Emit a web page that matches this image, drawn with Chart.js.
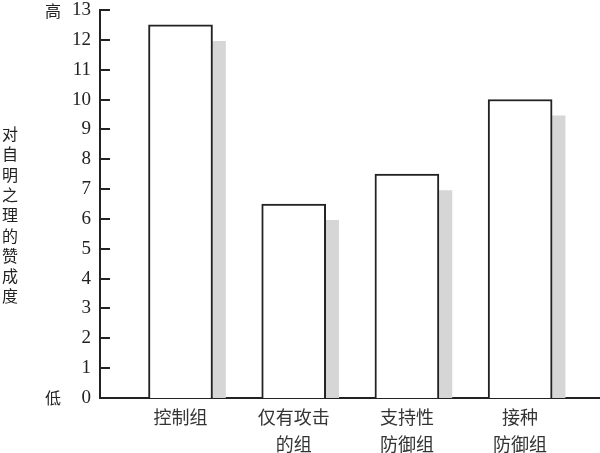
<!DOCTYPE html>
<html><head><meta charset="utf-8">
<script src="https://cdn.jsdelivr.net/npm/chart.js@4/dist/chart.umd.min.js"></script>
<style>html,body{margin:0;padding:0;background:#fff;} #wrap{width:600px;height:453px;position:relative;}</style>
</head><body><div id="wrap"><canvas id="c"></canvas></div>
<script>
const categories = ['控制组', '仅有攻击的组', '支持性防御组', '接种防御组'];
const categoryLabels = [['控制组'], ['仅有攻击', '的组'], ['支持性', '防御组'], ['接种', '防御组']];
const agreementValues = [12.5, 6.5, 7.5, 10];
const shadowValues = [11.95, 5.95, 6.95, 9.45];
const yMin = 0;
const yMax = 13;
const yStep = 1;
const yLowLabel = '低';
const yHighLabel = '高';
const yTitle = '对自明之理的赞成度';

const INK = '#222';
const CJK = '"Noto Sans CJK SC", "Noto Sans", sans-serif';

const decorPlugin = {
  id: 'decor',
  afterDraw(chart) {
    const ctx = chart.ctx;
    const y = chart.scales.y;
    const left = chart.chartArea.left;
    ctx.save();
    ctx.strokeStyle = INK;
    ctx.lineWidth = 2;
    y.ticks.forEach(t => {
      const py = Math.round(y.getPixelForValue(t.value));
      ctx.beginPath();
      ctx.moveTo(left, py);
      ctx.lineTo(left + 10, py);
      ctx.stroke();
    });
    ctx.fillStyle = INK;
    ctx.font = '16px ' + CJK;
    ctx.textAlign = 'center';
    ctx.textBaseline = 'middle';
    ctx.fillText(yHighLabel, 53, y.getPixelForValue(yMax) + 1);
    ctx.fillText(yLowLabel, 53, y.getPixelForValue(yMin));
    ctx.font = '16px ' + CJK;
    const chars = Array.from(yTitle);
    const step = 20.3;
    const start = 134;
    chars.forEach((ch, i) => ctx.fillText(ch, 10, start + i * step));
    ctx.restore();
  }
};

new Chart(document.getElementById('c'), {
  type: 'bar',
  data: {
    datasets: [
      {
        data: agreementValues.map((v, i) => ({ x: i, y: v })),
        backgroundColor: '#ffffff',
        borderColor: INK,
        borderWidth: 2,
        borderSkipped: 'bottom',
        barThickness: 64
      },
      {
        data: shadowValues.map((v, i) => ({ x: i, y: v })),
        backgroundColor: '#d6d6d6',
        borderWidth: 0,
        barThickness: 13
      }
    ]
  },
  options: {
    responsive: true,
    maintainAspectRatio: false,
    animation: false,
    devicePixelRatio: 1,
    layout: { padding: { top: 0, left: 0, right: 0, bottom: 0 } },
    plugins: { legend: { display: false }, tooltip: { enabled: false } },
    scales: {
      x: {
        type: 'linear',
        offset: false,
        min: -0.9938,
        max: 3.423,
        grid: { display: false, drawTicks: false },
        border: { display: true, color: INK, width: 2 },
        afterBuildTicks: s => { s.ticks = categories.map((_, i) => ({ value: i })); },
        afterFit: s => { s.height = 55; s.paddingLeft = 0; s.paddingRight = 0; },
        ticks: {
          autoSkip: false,
          maxRotation: 0,
          labelOffset: -32,
          padding: 6,
          color: '#333',
          font: { family: CJK, size: 18, lineHeight: 1.5 },
          callback: v => categoryLabels[v]
        }
      },
      y: {
        min: yMin,
        max: yMax,
        grid: { display: false, drawTicks: false },
        border: { display: true, color: INK, width: 2 },
        afterFit: s => { s.width = 100; s.paddingTop = 10; s.paddingBottom = 0; },
        ticks: {
          stepSize: yStep,
          padding: 9,
          color: INK,
          font: { family: '"Liberation Serif", serif', size: 19 }
        }
      }
    }
  },
  plugins: [decorPlugin]
});
</script>
</body></html>
